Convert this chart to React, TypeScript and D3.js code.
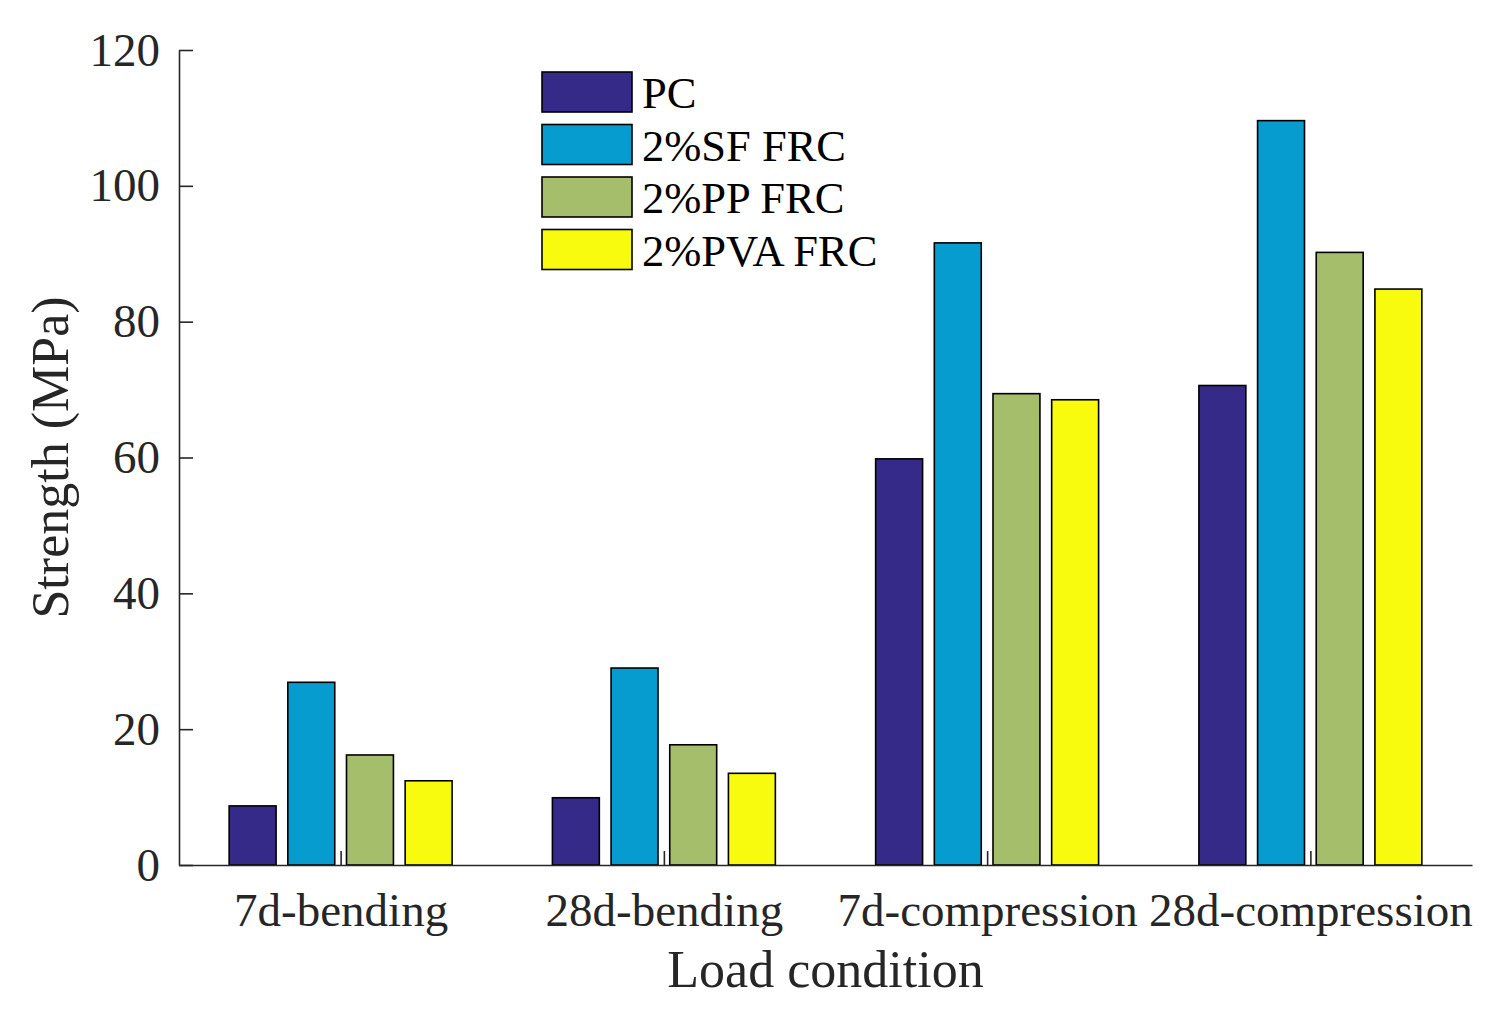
import { useEffect, useRef } from "react";
import * as d3 from "d3";

const categories = ["7d-bending", "28d-bending", "7d-compression", "28d-compression"];
const series = ["PC", "2%SF FRC", "2%PP FRC", "2%PVA FRC"];
const pcValues = [8.7, 9.9, 59.8, 70.6];
const sfValues = [26.9, 29.0, 91.6, 109.6];
const ppValues = [16.2, 17.7, 69.4, 90.2];
const pvaValues = [12.4, 13.5, 68.5, 84.8];
const yTicks = [0, 20, 40, 60, 80, 100, 120];

const COLORS = ["#352a87", "#079ccf", "#a5be6b", "#f9fb0e"];
const FONT = "'Liberation Serif', 'Times New Roman', serif";
const INK = "#262626";

export default function App() {
  const svgRef = useRef<SVGSVGElement>(null);

  useEffect(() => {
    if (!svgRef.current) return;
    const svg = d3.select(svgRef.current);
    svg.selectAll("*").remove();

    const left = 179;
    const right = 1472;
    const top = 50;
    const bottom = 865;

    const x = d3.scaleLinear().domain([0.5, categories.length + 0.5]).range([left, right]);
    const y = d3.scaleLinear().domain([0, 120]).range([bottom, top]);

    // bars sit inside a band around each category center
    const groupWidth = 0.726 * (x(1) - x(0));
    const inner = d3
      .scaleBand<string>()
      .domain(series)
      .range([-groupWidth / 2, groupWidth / 2])
      .paddingInner(0.2)
      .paddingOuter(0.1);

    const allSeries = [pcValues, sfValues, ppValues, pvaValues];

    const bars = svg.append("g");
    allSeries.forEach((vals, si) => {
      bars
        .append("g")
        .selectAll("rect")
        .data(vals)
        .join("rect")
        .attr("x", (_, ci) => x(ci + 1) + (inner(series[si]) ?? 0))
        .attr("y", (d) => y(d))
        .attr("width", inner.bandwidth())
        .attr("height", (d) => y(0) - y(d))
        .attr("fill", COLORS[si])
        .attr("stroke", "#000")
        .attr("stroke-width", 1.6);
    });

    // x axis
    const xAxis = svg
      .append("g")
      .attr("transform", `translate(0,${bottom})`)
      .call(
        d3
          .axisBottom(x)
          .tickValues([1, 2, 3, 4])
          .tickFormat((d) => categories[(d as number) - 1])
          .tickSize(-14)
          .tickSizeOuter(0)
          .tickPadding(28)
      );

    // y axis
    const yAxis = svg
      .append("g")
      .attr("transform", `translate(${left},0)`)
      .call(
        d3
          .axisLeft(y)
          .tickValues(yTicks)
          .tickSize(-14)
          .tickSizeOuter(0)
          .tickPadding(19)
      );

    [xAxis, yAxis].forEach((ax) => {
      ax.attr("font-family", null).attr("font-size", null);
      ax.select(".domain").attr("stroke", INK).attr("stroke-width", 1.6);
      ax.selectAll(".tick line").attr("stroke", INK).attr("stroke-width", 1.6);
      ax.selectAll(".tick text")
        .attr("fill", INK)
        .attr("font-family", FONT)
        .attr("font-size", 47);
    });

    // axis titles
    svg
      .append("text")
      .attr("x", (left + right) / 2)
      .attr("y", 987)
      .attr("text-anchor", "middle")
      .attr("fill", INK)
      .attr("font-family", FONT)
      .attr("font-size", 52)
      .text("Load condition");

    svg
      .append("text")
      .attr("transform", `translate(68,${(top + bottom) / 2}) rotate(-90)`)
      .attr("text-anchor", "middle")
      .attr("fill", INK)
      .attr("font-family", FONT)
      .attr("font-size", 52)
      .text("Strength (MPa)");

    // legend
    const legend = svg.append("g").attr("transform", "translate(542,72)");
    series.forEach((name, i) => {
      const row = legend.append("g").attr("transform", `translate(0,${i * 52.5})`);
      row
        .append("rect")
        .attr("width", 90)
        .attr("height", 40)
        .attr("fill", COLORS[i])
        .attr("stroke", "#000")
        .attr("stroke-width", 1.6);
      row
        .append("text")
        .attr("x", 100)
        .attr("y", 36)
        .attr("fill", "#000")
        .attr("font-family", FONT)
        .attr("font-size", 44.5)
        .text(name);
    });
  }, []);

  return (
    <svg
      ref={svgRef}
      width={1501}
      height={1010}
      style={{ position: "absolute", left: 0, top: 0, background: "#fff" }}
      role="img"
      aria-label="Strength by load condition bar chart"
    />
  );
}
